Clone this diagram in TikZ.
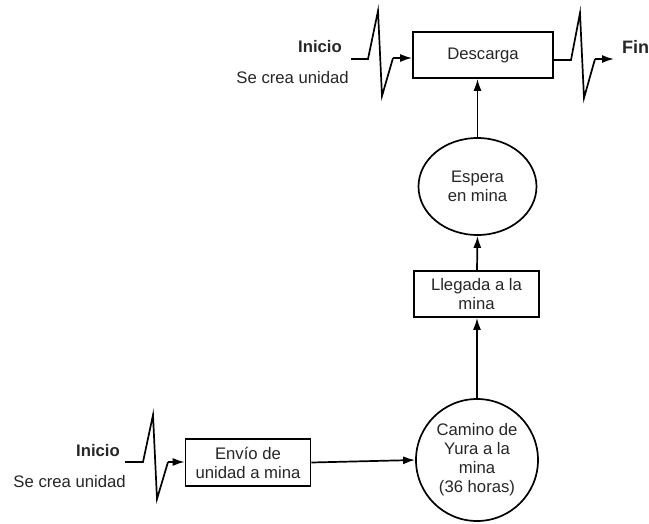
\documentclass[tikz,border=0pt]{standalone}
\usepackage{fontspec}
\setmainfont{Liberation Sans}
\usetikzlibrary{shapes.geometric,arrows.meta,calc}
\begin{document}
\begin{tikzpicture}[x=1pt,y=-1pt,
  every node/.style={font=\fontsize{16.7}{19}\selectfont, text=black!85},
  procbox/.style={draw=black, line width=1.7pt, rectangle, align=center, inner sep=2pt},
  roundnode/.style={draw=black, line width=1.7pt, ellipse, align=center, inner sep=0pt},
  conn/.style={draw=black, line width=1.7pt, -{Latex[length=12pt,width=8pt]}},
  zig/.style={draw=black, line width=1.7pt},
  lbl/.style={anchor=east, inner sep=0pt},
  lblb/.style={anchor=east, inner sep=0pt, font=\fontsize{16.7}{19}\selectfont\bfseries}
]
\useasboundingbox (0,0) rectangle (649,523);

% nodes
\node[procbox, minimum width=140pt, minimum height=46pt] (descarga) at (483,55) {Descarga};
\node[roundnode, minimum width=118pt, minimum height=97pt] (espera) at (477.5,186.5) {Espera\\en mina};
\node[procbox, minimum width=125pt, minimum height=46pt] (llegada) at (476.5,294) {Llegada a la\\mina};
\node[roundnode, circle, minimum size=122pt] (camino) at (477,460) {Camino de\\Yura a la\\mina\\(36 horas)};
\node[procbox, minimum width=125pt, minimum height=47pt] (envio) at (248,462.5) {Envío de\\unidad a mina};

% labels
\node[lblb] (ini1) at (342,47) {Inicio};
\node[lbl] (sec1) at (349,78) {Se crea unidad};
\node[lblb] (ini2) at (120,451) {Inicio};
\node[lbl] (sec2) at (126,482) {Se crea unidad};
\node[anchor=west, inner sep=0pt, font=\fontsize{18}{20}\selectfont\bfseries] (fin) at (622,47) {Fin};

% top-left zigzag into Descarga
\coordinate (a0) at (351,59);
\coordinate (a1) at (368,59);
\coordinate (a2) at (378,11);
\coordinate (a3) at (382,96);
\coordinate (a4) at (393,58);
\draw[zig] (a0) -- (a1) -- (a2) -- (a3) -- (a4);
\draw[conn] (a4) -- (a4 -| descarga.west);

% right zigzag out of Descarga
\coordinate (b1) at (571,60);
\coordinate (b2) at (580,13);
\coordinate (b3) at (584,98);
\coordinate (b4) at (595,59);
\coordinate (b5) at (614,59);
\draw[zig] (b1 -| descarga.east) -- (b1) -- (b2) -- (b3) -- (b4);
\draw[conn] (b4) -- (b5);

% bottom-left zigzag into Envio
\coordinate (c0) at (125,462);
\coordinate (c1) at (143,462);
\coordinate (c2) at (153,415);
\coordinate (c3) at (157,499);
\coordinate (c4) at (168,462);
\draw[zig] (c0) -- (c1) -- (c2) -- (c3) -- (c4);
\draw[conn] (c4) -- (c4 -| envio.west);

% flow connectors
\draw[conn] (envio.east) -- (camino.west);
\draw[conn] (camino.north) -- (camino.north |- llegada.south);
\draw[conn] (llegada.north -| camino.north) -- (espera.south);
\draw[conn] (espera.north) -- (espera.north |- descarga.south);
\end{tikzpicture}
\end{document}
